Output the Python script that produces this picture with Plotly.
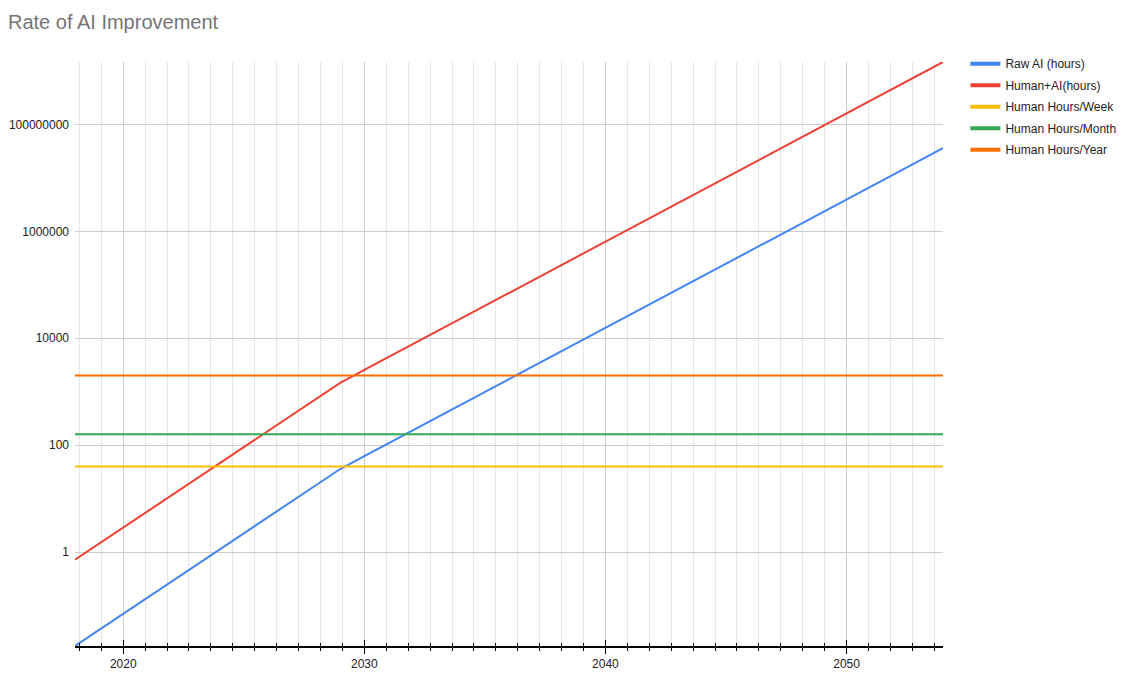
import math
import plotly.graph_objects as go

years = list(range(2018, 2055))

raw_ai_hours = [
    0.0175, 0.035, 0.07, 0.14, 0.28, 0.56, 1.12, 2.24, 4.48, 8.96, 17.9, 35.8,
    62.2, 108, 188, 327, 568, 987, 1715, 2981, 5181, 9005, 15650, 27200, 47270,
    82160, 142800, 248200, 431300, 749600, 1303000, 2264000, 3935000, 6840000,
    11890000, 20660000, 35910000,
]

human_ai_hours = [
    0.718, 1.435, 2.87, 5.74, 11.5, 23.0, 45.9, 91.8, 184, 367, 734, 1468,
    2550, 4430, 7710, 13400, 23290, 40470, 70320, 122200, 212400, 369200, 641700,
    1115000, 1938000, 3369000, 5855000, 10180000, 17680000, 30730000, 53420000,
    92820000, 161300000, 280400000, 487500000, 847100000, 1472000000,
]

human_week = [40] * len(years)
human_month = [160] * len(years)
human_year = [2000] * len(years)

series_names = ["Raw AI (hours)", "Human+AI(hours)", "Human Hours/Week",
                "Human Hours/Month", "Human Hours/Year"]
series_values = [raw_ai_hours, human_ai_hours, human_week, human_month, human_year]
series_colors = ["#4285F4", "#EA4335", "#FBBC04", "#34A853", "#FF6D01"]

y_tick_vals = [1, 100, 10000, 1000000, 100000000]
y_tick_text = ["1", "100", "10000", "1000000", "100000000"]
x_tick_vals = [2020, 2030, 2040, 2050]

FONT = "Arial, 'Liberation Sans', sans-serif"

# minor grid positions (11 subdivisions per decade, as in the source chart)
x_minor_vals = [2020 + k * 10 / 11 for k in range(-2, 38) if 2018 <= 2020 + k * 10 / 11 <= 2054]

fig = go.Figure()
for i, (name, vals, col) in enumerate(zip(series_names, series_values, series_colors)):
    fig.add_trace(go.Scatter(
        x=years, y=vals, mode="lines", name=name,
        line=dict(color=col, width=2), showlegend=False, hoverinfo="x+y+name",
    ))
for i, (name, col) in enumerate(zip(series_names, series_colors)):
    fig.add_trace(go.Scatter(
        x=[None], y=[None], mode="lines", name=name,
        line=dict(color=col, width=4), legendgroup=f"g{i}", showlegend=True,
    ))

all_vals = [v for s in series_values for v in s]
ymin = math.log10(min(all_vals))
ymax = math.log10(max(all_vals))

fig.update_layout(
    width=1118, height=673,
    margin=dict(l=67, r=183, t=54, b=35, autoexpand=False),
    paper_bgcolor="white", plot_bgcolor="white",
    font=dict(family=FONT, size=12, color="#222222"),
    title=dict(text="Rate of AI Improvement", x=0.0, xanchor="left", xref="container",
               y=0.979, yanchor="middle", pad=dict(l=0),
               font=dict(family=FONT, size=20, color="#757575")),
    legend=dict(x=1.0258, xanchor="left", y=1.022, yanchor="top",
                font=dict(family=FONT, size=12, color="#222222"),
                tracegroupgap=2.5, itemwidth=30, bgcolor="rgba(0,0,0,0)"),
    showlegend=True,
    xaxis=dict(
        range=[2018, 2054], tickvals=x_tick_vals, ticktext=[str(v) for v in x_tick_vals],
        showgrid=True, gridcolor="#cccccc", gridwidth=1, automargin=False,
        showline=True, linecolor="black", linewidth=1.5,
        ticks="outside", ticklen=6, tickcolor="black", tickwidth=1,
        zeroline=False,
        minor=dict(tickmode="array", tickvals=x_minor_vals, showgrid=True,
                   gridcolor="#e6e6e6", gridwidth=1, ticks="outside", ticklen=3,
                   tickcolor="black"),
        tickfont=dict(size=12, color="#222222"),
    ),
    xaxis2=dict(
        range=[2018, 2054], overlaying="x", anchor="y", side="bottom",
        tickvals=x_tick_vals, showticklabels=False, showgrid=False, automargin=False,
        ticks="inside", ticklen=6, tickcolor="black", tickwidth=1,
        zeroline=False, showline=False,
        minor=dict(tickmode="array", tickvals=x_minor_vals, showgrid=False,
                   ticks="inside", ticklen=3, tickcolor="black"),
    ),
    yaxis=dict(
        type="log", range=[ymin, ymax], automargin=False,
        tickvals=y_tick_vals, ticktext=y_tick_text, ticklabelstandoff=5,
        showgrid=True, gridcolor="#cccccc", gridwidth=1,
        showline=False, zeroline=False, ticks="",
        tickfont=dict(size=12, color="#222222"),
    ),
)

fig.add_trace(go.Scatter(x=[2018], y=[1], xaxis="x2", mode="markers",
                         marker=dict(opacity=0), showlegend=False, hoverinfo="skip"))

fig.write_html("out.html")
